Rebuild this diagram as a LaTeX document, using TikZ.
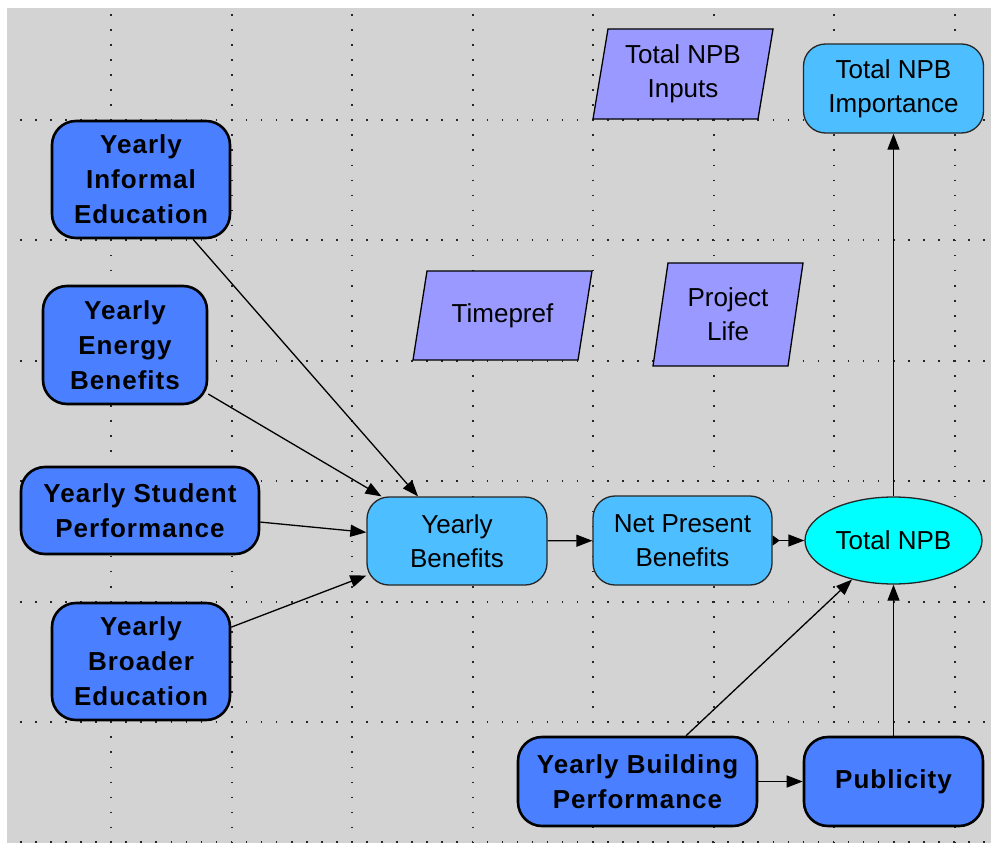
\documentclass[tikz,border=0pt]{standalone}
\usepackage{fontspec}
\setmainfont{Liberation Sans}
\usetikzlibrary{arrows.meta,shapes.geometric}
\definecolor{bggray}{RGB}{211,211,211}
\definecolor{darkblue}{RGB}{74,128,255}
\definecolor{lightblue}{RGB}{77,190,255}
\definecolor{brightcyan}{RGB}{0,255,255}
\definecolor{inputpurple}{RGB}{153,153,255}
\tikzset{
  darknode/.style={draw=black, line width=2.6pt, fill=darkblue, rounded corners=24pt, align=center,
    font=\fontsize{26}{35}\selectfont\bfseries\addfontfeature{LetterSpace=4}, inner sep=0pt},
  lightnode/.style={draw=black!85, line width=1.3pt, fill=lightblue, rounded corners=22pt, align=center,
    font=\fontsize{26}{34}\selectfont, inner sep=0pt},
  textonly/.style={align=center, font=\fontsize{26}{34}\selectfont, inner sep=0pt},
  inputshape/.style={draw=black, line width=1.3pt, fill=inputpurple},
  gridline/.style={black!85, line width=1.6pt, dash pattern=on 1.6pt off 13.45pt},
  conn/.style={black, line width=1.3pt, -{Triangle[length=16pt,width=12pt]}},
}
\begin{document}
\begin{tikzpicture}[x=1pt,y=-1pt]
\useasboundingbox (0,0) rectangle (991,843);
\fill[white] (0,0) rectangle (991,843);
\fill[bggray] (7,8) rectangle (991,843);
% grid
\foreach \gx in {111,232,352,473,593,714,834,955}
  \draw[gridline] (\gx,14) -- (\gx,843);
\foreach \gy in {120,240,361,481,602,722,842}
  \draw[gridline] (20,\gy) -- (991,\gy);

% input parallelograms
\filldraw[inputshape] (608,29) -- (773,29) -- (758,119) -- (593,119) -- cycle;
\node[textonly] (inp) at (683,74) {Total NPB\\Inputs};
\filldraw[inputshape] (427,271) -- (592,271) -- (578,360) -- (413,360) -- cycle;
\node[textonly] (tp) at (502.5,315.5) {Timepref};
\filldraw[inputshape] (668,263) -- (803,263) -- (788,366) -- (653,366) -- cycle;
\node[textonly] (pl) at (728,314.5) {Project\\Life};

% nodes
\node[darknode, minimum width=178pt, minimum height=117pt] (ie) at (141,179.5) {Yearly\\Informal\\Education};
\node[darknode, minimum width=164pt, minimum height=118pt] (ee) at (125,345) {Yearly\\Energy\\Benefits};
\node[darknode, minimum width=238pt, minimum height=87pt] (sp) at (140,510.5) {Yearly Student\\Performance};
\node[darknode, minimum width=178pt, minimum height=117pt] (be) at (141,661.5) {Yearly\\Broader\\Education};
\node[lightnode, minimum width=180pt, minimum height=88pt] (yb) at (457,541) {Yearly\\Benefits};
\node[lightnode, minimum width=179pt, minimum height=89pt] (npb) at (682.5,540.5) {Net Present\\Benefits};
\node[ellipse, draw=black!85, line width=1.3pt, fill=brightcyan, minimum width=177pt, minimum height=87pt,
  inner sep=0pt, font=\fontsize{26}{34}\selectfont] (tn) at (893.5,540.5) {Total NPB};
\node[darknode, minimum width=239pt, minimum height=89pt] (bp) at (637.5,781.5) {Yearly Building\\Performance};
\node[darknode, minimum width=179pt, minimum height=89pt] (pub) at (893.5,781.5) {Publicity};
\node[lightnode, minimum width=180pt, minimum height=89pt] (tni) at (893.5,88.5) {Total NPB\\Importance};

% connectors
\draw[conn] (ie) -- (yb);
\draw[conn] (ee) -- (yb);
\draw[conn] (sp) -- (yb);
\draw[conn] (be) -- (yb);
\draw[conn] (yb) -- (npb);
\draw[black, line width=1.3pt, {Triangle[reversed,length=7pt,width=10pt]}-{Triangle[length=16pt,width=12pt]}] (npb) -- (tn);
\draw[conn] (bp) -- (tn);
\draw[conn] (bp) -- (pub);
\draw[conn] (pub) -- (tn);
\draw[conn] (tn) -- (tni);
\end{tikzpicture}
\end{document}
